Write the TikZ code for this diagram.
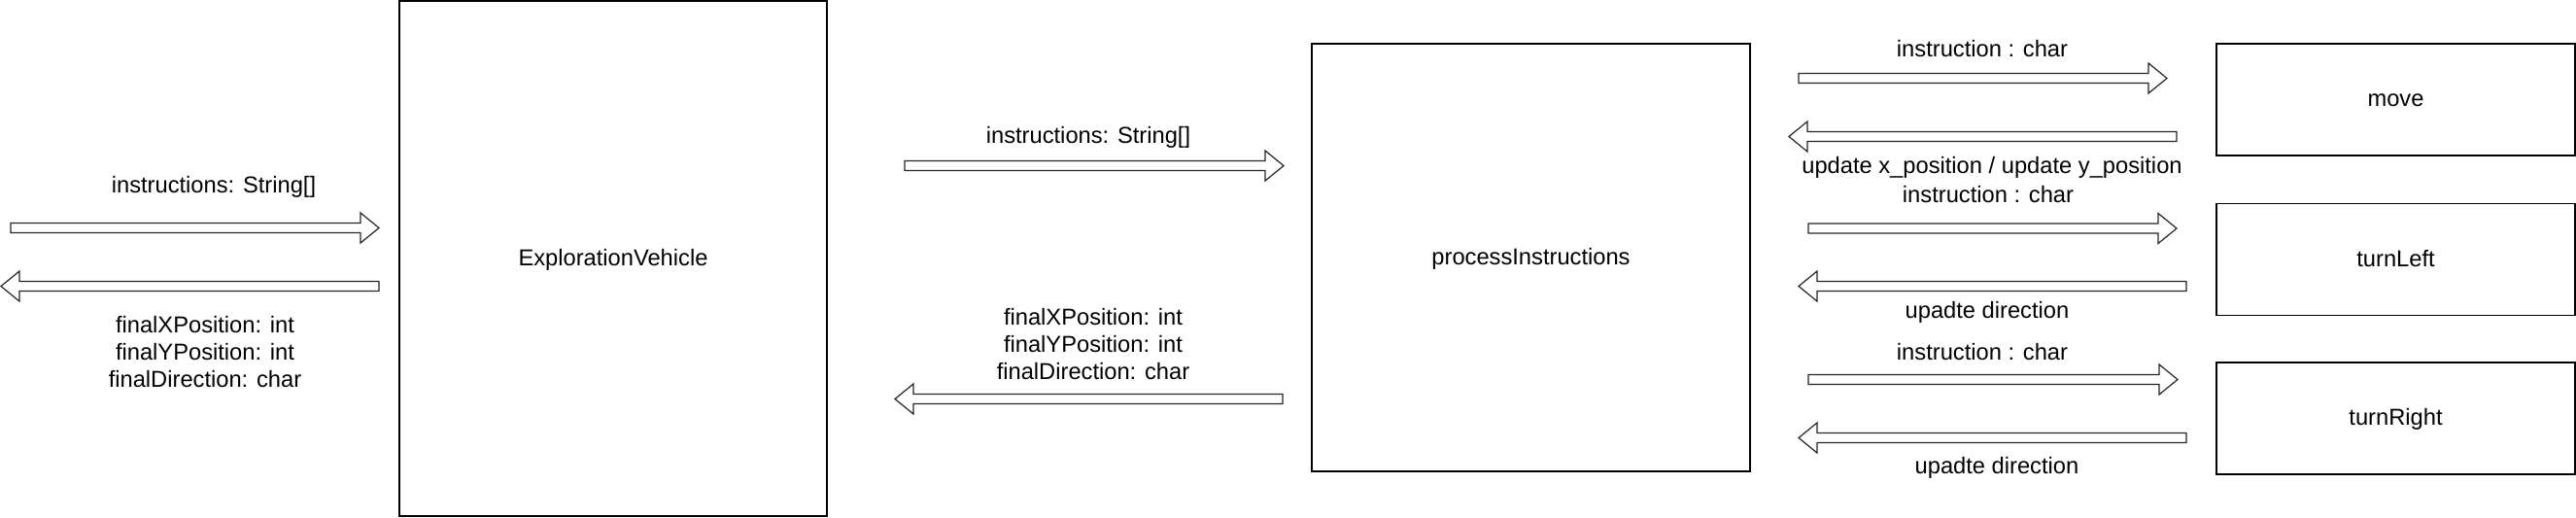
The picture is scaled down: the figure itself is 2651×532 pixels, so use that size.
\documentclass[tikz,border=0pt]{standalone}
\usepackage{fontspec}
\setmainfont{Liberation Sans}
\usetikzlibrary{calc,positioning}
\tikzset{
  block/.style   = {draw, line width=0.75pt, fill=white, inner sep=0pt,
                    text height=0.9em, text depth=0.2em,
                    font=\fontsize{11.85pt}{14.2pt}\selectfont},
  method/.style  = {block, minimum width=184.5pt, minimum height=57.5pt},
  lbl/.style     = {inner sep=0pt, align=center,
                    font=\fontsize{11.85pt}{14.2pt}\selectfont},
  flow/.style    = {draw=black!85, fill=white, line width=0.6pt, line join=miter,
                    to path={let \p1=(\tikztostart), \p2=(\tikztotarget),
                      \p3=($(\tikztotarget)!9.5pt!(\tikztostart)$) in
                      (\x1,\y1+2.5pt) -- (\x3,\y1+2.5pt) -- (\x3,\y1+7.75pt)
                      -- (\x2,\y2) -- (\x3,\y1-7.75pt) -- (\x3,\y1-2.5pt)
                      -- (\x1,\y1-2.5pt) -- cycle}},
}

\begin{document}
\begin{tikzpicture}[x=0.5pt, y=-0.5pt]
  \useasboundingbox (0,0) rectangle (2651,532);

  % components
  \node[block, minimum width=220pt, minimum height=265pt] (ev) at (631,266) {ExplorationVehicle};
  \node[block, minimum width=225.5pt, minimum height=220pt] (proc) at (1575.5,265) {processInstructions};
  \node[method] (mv) at (2465.5,102.5) {move};
  \node[method, below=24pt of mv] (tl) {turnLeft};
  \node[method, below=23.5pt of tl] (tr) {turnRight};

  % caller <-> ExplorationVehicle
  \coordinate (in1s) at (11,234.5);   \coordinate (in1e) at (390,234.5);
  \coordinate (out1s) at (390,294.5); \coordinate (out1e) at (1,294.5);
  \draw[flow] (in1s) to (in1e);
  \draw[flow] (out1s) to (out1e);
  \node[lbl] (in1l) at (220,192) {instructions: String[]};
  \node[lbl] (out1l) at (211,362) {finalXPosition: int\\finalYPosition: int\\finalDirection: char};

  % ExplorationVehicle <-> processInstructions
  \coordinate (in2s) at (931,170.5);   \coordinate (in2e) at (1321,170.5);
  \coordinate (out2s) at (1320,410.5); \coordinate (out2e) at (921,410.5);
  \draw[flow] (in2s) to (in2e);
  \draw[flow] (out2s) to (out2e);
  \node[lbl] (in2l) at (1120,141) {instructions: String[]};
  \node[lbl] (out2l) at (1125,354) {finalXPosition: int\\finalYPosition: int\\finalDirection: char};

  % processInstructions <-> move
  \coordinate (mvis) at (1851,80.5);  \coordinate (mvie) at (2230,80.5);
  \coordinate (mvos) at (2240,140.5); \coordinate (mvoe) at (1841,140.5);
  \draw[flow] (mvis) to (mvie);
  \draw[flow] (mvos) to (mvoe);
  \node[lbl] (mvil) at (2040,50) {instruction : char};
  \node[lbl] (mvol) at (2050,172) {update x\_position / update y\_position};

  % processInstructions <-> turnLeft
  \coordinate (tlis) at (1861,235);   \coordinate (tlie) at (2240,235);
  \coordinate (tlos) at (2250,294.5); \coordinate (tloe) at (1851,294.5);
  \draw[flow] (tlis) to (tlie);
  \draw[flow] (tlos) to (tloe);
  \node[lbl] (tlil) at (2046,200) {instruction : char};
  \node[lbl] (tlol) at (2045,321) {upadte direction};

  % processInstructions <-> turnRight
  \coordinate (tris) at (1861,390.5); \coordinate (trie) at (2241,390.5);
  \coordinate (tros) at (2250,450.5); \coordinate (troe) at (1851,450.5);
  \draw[flow] (tris) to (trie);
  \draw[flow] (tros) to (troe);
  \node[lbl] (tril) at (2040,362) {instruction : char};
  \node[lbl] (trol) at (2055,481) {upadte direction};
\end{tikzpicture}
\end{document}
